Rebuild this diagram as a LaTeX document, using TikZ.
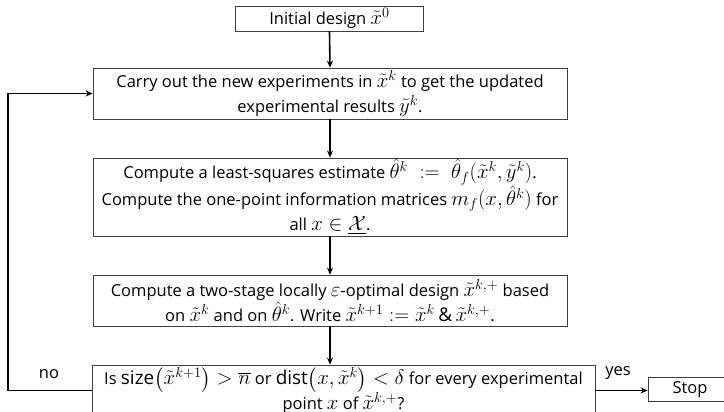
\documentclass[tikz,border=0pt]{standalone}
\usepackage{fontspec}
\setmainfont{Open Sans}[Scale=0.97]
\usepackage{amsmath}
\DeclareMathSizes{17}{19.5}{14}{10}
\usetikzlibrary{arrows.meta}
\tikzset{
  stepbox/.style={draw=black!75, line width=0.8pt, fill=white, align=center,
    inner sep=0pt, font=\fontsize{17}{25}\selectfont},
  flow/.style={line width=1.6pt, -{Stealth[length=7pt,width=6pt]}},
  lbl/.style={font=\fontsize{17}{20}\selectfont, inner sep=0pt}
}
\begin{document}
\begin{tikzpicture}[x=1pt,y=-1pt]
\useasboundingbox (0,0) rectangle (724,412);

\node[stepbox, minimum width=188pt, minimum height=25pt] (init) at (329.5,18.5)
  {Initial design $\tilde{x}^0$};

\node[stepbox, minimum width=474pt, minimum height=51pt] (run) at (330,93.5)
  {Carry out the new experiments in $\tilde{x}^k$ to get the updated\\
   experimental results $\tilde{y}^k$.};

\node[stepbox, minimum width=474pt, minimum height=78pt] (est) at (330,197)
  {Compute a least-squares estimate $\hat{\theta}^k \;\mathrel{:=}\; \hat{\theta}_f(\tilde{x}^k,\tilde{y}^k)$.\\
   Compute the one-point information matrices $m_f(x,\hat{\theta}^k)$ for\\
   all $x\in\underline{\mathcal{X}}$.};

\node[stepbox, minimum width=474pt, minimum height=51pt] (opt) at (330,300.5)
  {Compute a two-stage locally $\varepsilon$-optimal design $\tilde{x}^{k,+}$ based\\
   on $\tilde{x}^k$ and on $\hat{\theta}^k$. Write $\tilde{x}^{k+1}\mathrel{:=}\tilde{x}^k\,\&\,\tilde{x}^{k,+}$.};

\node[stepbox, minimum width=503pt, minimum height=51pt] (test) at (343.5,390.5)
  {Is $\mathrm{size}\bigl(\tilde{x}^{k+1}\bigr) > \overline{n}$ or $\mathrm{dist}\bigl(x,\tilde{x}^k\bigr) < \delta$ for every experimental\\
   point $x$ of $\tilde{x}^{k,+}$?};

\node[stepbox, minimum width=84pt, minimum height=24pt] (stop) at (690,389.5) {Stop};

% main flow
\draw[flow] (init.south) -- (run.north);
\draw[flow] (run.south) -- (est.north);
\draw[flow] (est.south) -- (opt.north);
\draw[flow] (opt.south) -- (opt.south |- test.north);

% decision outcomes
\coordinate (cornerlow) at (8,390.5);
\coordinate (cornerhigh) at (8,93.5);
\draw[flow] (test.west) -- (cornerlow) -- (cornerhigh) -- (run.west);
\draw[flow] (test.east) -- (stop.west |- test.east);

\node[lbl] (no) at (49,374) {no};
\node[lbl] (yes) at (618,373) {yes};
\end{tikzpicture}
\end{document}
